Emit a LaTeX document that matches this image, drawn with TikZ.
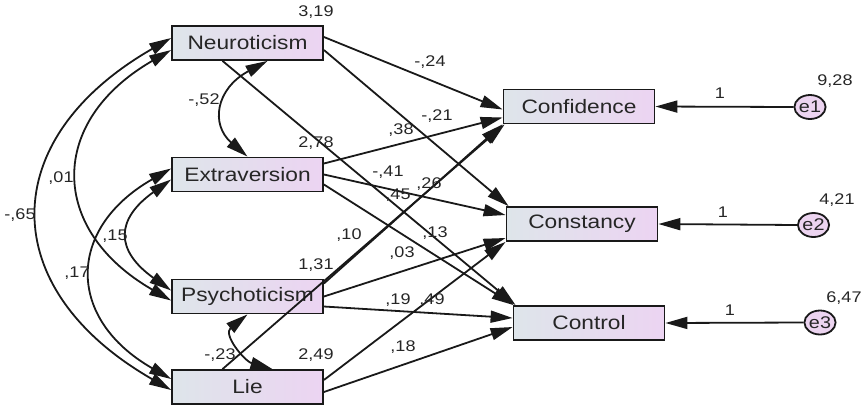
\documentclass[tikz,border=0pt]{standalone}
\usepackage{fontspec}
\newfontfamily\amosfont[FakeStretch=1.17]{Liberation Sans}
\usetikzlibrary{arrows.meta,shapes.geometric}
\definecolor{boxleft}{RGB}{222,229,234}
\definecolor{boxright}{RGB}{236,212,242}
\definecolor{errfill}{RGB}{236,212,240}

\begin{document}
\begin{tikzpicture}[x=1bp, y=-1bp,
    var/.style={draw=black!90, line width=1.8bp, rectangle, left color=boxleft, right color=boxright,
      minimum width=151bp, minimum height=34bp, inner sep=0pt, text=black!85,
      font=\amosfont\fontsize{19.5}{22}\selectfont},
    err/.style={draw=black!90, line width=1.8bp, ellipse, fill=errfill, minimum width=31bp,
      minimum height=24bp, inner sep=0pt, text=black!85, font=\amosfont\fontsize{17}{19}\selectfont},
    est/.style={inner sep=0pt, text=black!85, font=\amosfont\fontsize{15.5}{17}\selectfont},
    reg/.style={-{Triangle[length=22bp,width=12bp]}, line width=1.8bp, black!90},
    cov/.style={{Triangle[length=22bp,width=12bp]}-{Triangle[length=22bp,width=12bp]}, line width=1.8bp, black!90}]
      \useasboundingbox (0,0) rectangle (862,407);

      % Predictors
      \node[var] (neuro) at (247.5,43) {Neuroticism};
      \node[var] (extra) at (247.5,174.5) {Extraversion};
      \node[var] (psych) at (247.5,296.5) {Psychoticism};
      \node[var] (lie) at (247.5,387) {Lie};

      % Outcomes
      \node[var] (conf) at (579,106.5) {Confidence};
      \node[var] (const) at (582,224) {Constancy};
      \node[var] (ctrl) at (589,323) {Control};

      % Error terms
      \node[err] (e1) at (810,107) {e1};
      \node[err] (e2) at (813.5,225) {e2};
      \node[err] (e3) at (820,322.5) {e3};

      % Regression paths
      \draw[reg] ([yshift=6bp]neuro.east) -- ([yshift=-3bp]conf.west);
      \draw[reg] ([yshift=-7bp]neuro.east) -- ([xshift=3bp]const.north west);
      \draw[reg] ([xshift=-25bp]neuro.south) -- ([xshift=3bp]ctrl.north west);
      \draw[reg] ([yshift=11bp]extra.east) -- ([yshift=-11bp]conf.west);
      \draw[reg] (extra.east) -- ([yshift=9bp]const.west);
      \draw[reg] ([yshift=-10bp]extra.east) -- ([xshift=1bp]ctrl.north west);
      \draw[reg] ([yshift=13bp]psych.east) -- (conf.south west);
      \draw[reg] (psych.east) -- ([yshift=-14bp]const.west);
      \draw[reg] ([yshift=-10bp]psych.east) -- ([yshift=5bp]ctrl.west);
      \draw[reg] ([xshift=-25bp]lie.north) -- ([xshift=2bp]conf.south west);
      \draw[reg] ([yshift=7bp]lie.east) -- (const.south west);
      \draw[reg] ([yshift=-5bp]lie.east) -- ([yshift=-4bp]ctrl.west);

      % Error paths
      \draw[reg] (e1.west) -- (conf.east);
      \draw[reg] (e2.west) -- (const.east);
      \draw[reg] (e3.west) -- (ctrl.east);

      % Covariances
      \draw[cov] ([yshift=5bp]neuro.west) .. controls +(-176,101) and +(-176,-101) .. ([yshift=-3bp]lie.west);
      \draw[cov] ([yshift=-7bp]neuro.west) .. controls +(-123,71) and +(-123,-71) .. ([yshift=-4bp]psych.west);
      \draw[cov] ([yshift=-5bp]extra.west) .. controls +(-56,40) and +(-56,-40) .. ([yshift=6bp]psych.west);
      \draw[cov] ([yshift=6bp]extra.west) .. controls +(-105,60) and +(-105,-60) .. ([yshift=8bp]lie.west);
      \draw[cov] ([xshift=20bp]neuro.south) .. controls +(-52,28) and +(-37,-32) .. (extra.north);
      \draw[cov] (psych.south) .. controls +(-25,20) and +(-28,-8) .. ([xshift=25bp]lie.north);

      % Variances
      \node[est] (v-neuro) at (316,12) {3,19};
      \node[est] (v-extra) at (316,143) {2,78};
      \node[est] (v-psych) at (316,265) {1,31};
      \node[est] (v-lie) at (316,355) {2,49};
      \node[est] (v-e1) at (835,81) {9,28};
      \node[est] (v-e2) at (837,200) {4,21};
      \node[est] (v-e3) at (844,298) {6,47};

      % Path weights
      \node[est] (w-e1) at (720,93) {1};
      \node[est] (w-e2) at (723,212) {1};
      \node[est] (w-e3) at (730,310) {1};
      \node[est] (w-n1) at (430,62) {-,24};
      \node[est] (w-n2) at (437,116) {-,21};
      \node[est] (w-n3) at (398,195) {,45};
      \node[est] (w-x1) at (401,130) {,38};
      \node[est] (w-x2) at (388,172) {-,41};
      \node[est] (w-x3) at (435,233) {,13};
      \node[est] (w-p1) at (349,235) {,10};
      \node[est] (w-p2) at (402,253) {,03};
      \node[est] (w-p3) at (398,300) {,19};
      \node[est] (w-l1) at (429,184) {,26};
      \node[est] (w-l2) at (432,300) {,49};
      \node[est] (w-l3) at (403,347) {,18};

      % Covariance labels
      \node[est] (c-ne) at (204,100) {-,52};
      \node[est] (c-np) at (61,178) {,01};
      \node[est] (c-nl) at (20,215) {-,65};
      \node[est] (c-ep) at (115,236) {,15};
      \node[est] (c-el) at (77,273) {,17};
      \node[est] (c-pl) at (220,355) {-,23};

    \end{tikzpicture}
\end{document}
